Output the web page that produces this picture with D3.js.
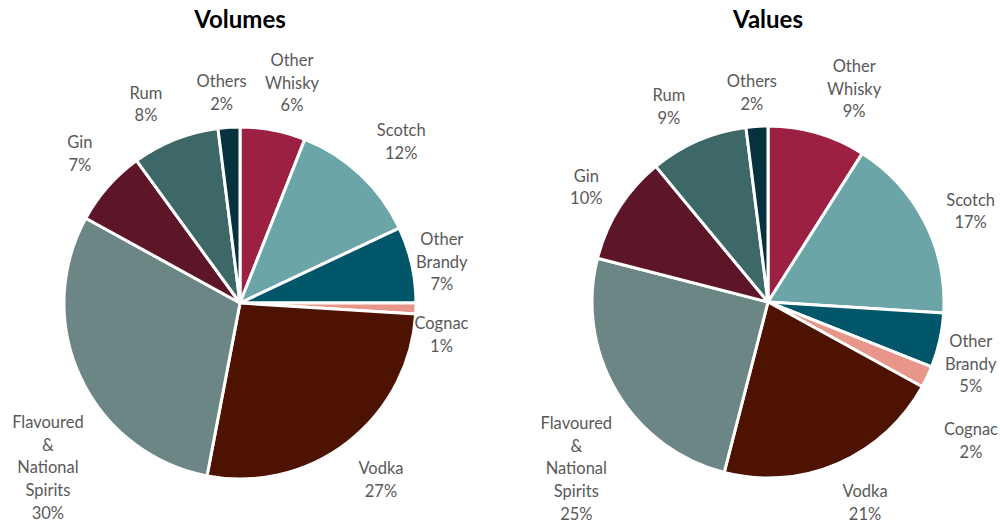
<!DOCTYPE html>
<html>
<head>
<meta charset="utf-8">
<script src="https://cdn.jsdelivr.net/npm/d3@7"></script>
<style>
  html, body { margin: 0; padding: 0; background: #ffffff; }
  svg { display: block; }
</style>
</head>
<body>
<svg id="chart" width="1000" height="524"></svg>
<script>
// Spirit categories, clockwise from 12 o'clock
const categories = ["Other Whisky", "Scotch", "Other Brandy", "Cognac", "Vodka",
  "Flavoured & National Spirits", "Gin", "Rum", "Others"];

// Label lines shown for each category
const labelLines = [["Other", "Whisky"], ["Scotch"], ["Other", "Brandy"], ["Cognac"], ["Vodka"],
  ["Flavoured", "&", "National", "Spirits"], ["Gin"], ["Rum"], ["Others"]];

// Shares (%) by volume and by value
const volumeShares = [6, 12, 7, 1, 27, 30, 7, 8, 2];
const valueShares  = [9, 17, 5, 2, 21, 25, 10, 9, 2];

const sliceColors = ["#9B2042", "#6CA5A8", "#025669", "#E8958A", "#4D1200",
  "#6C8686", "#5D1628", "#3E6768", "#06323E"];

// Label placement: angular shift (deg) from slice middle and distance from centre
const volumeLabelShift = [2.5, 1.8, 1.1, 7.2, -0.8, -15.4, 1.6, -3.7, -1.4];
const volumeLabelDist  = [226, 228, 206, 204, 226, 253, 219, 220, 211];
const valueLabelShift  = [5.8, 2.9, 4.4, 9.2, -2.4, -10.4, -0.1, -3.5, -0.8];
const valueLabelDist   = [230, 222, 212, 246, 223, 254, 215, 219, 210];

const svg = d3.select("#chart");
const radius = 176;
const lineH = 22.6;

function drawPie(title, shares, cx, cy, labelShift, labelDist) {
  const g = svg.append("g").attr("transform", `translate(${cx},${cy})`);
  const rows = categories.map((c, i) => ({ name: c, value: shares[i], i }));
  const pie = d3.pie().value(d => d.value).sort(null);
  const arc = d3.arc().innerRadius(0).outerRadius(radius);
  const arcs = pie(rows);

  g.selectAll("path.slice")
    .data(arcs)
    .join("path")
    .attr("class", "slice")
    .attr("d", arc)
    .attr("fill", d => sliceColors[d.data.i])
    .attr("stroke", "#ffffff")
    .attr("stroke-width", 3)
    .attr("stroke-linejoin", "round");

  g.selectAll("text.lbl")
    .data(arcs)
    .join("text")
    .attr("class", "lbl")
    .attr("text-anchor", "middle")
    .attr("font-family", "Lato, 'Open Sans', sans-serif")
    .attr("font-size", 16.5)
    .attr("fill", "#595959")
    .each(function (d) {
      const i = d.data.i;
      const mid = (d.startAngle + d.endAngle) / 2 + labelShift[i] * Math.PI / 180;
      const x = Math.sin(mid) * labelDist[i];
      const y = -Math.cos(mid) * labelDist[i];
      const lines = labelLines[i].concat([d3.format("d")(d.data.value) + "%"]);
      const top = y - (lines.length - 1) * lineH / 2;
      d3.select(this).selectAll("tspan")
        .data(lines)
        .join("tspan")
        .attr("x", x)
        .attr("y", (_, k) => top + k * lineH)
        .attr("dy", "0.35em")
        .text(t => t);
    });

  svg.append("text")
    .attr("x", cx)
    .attr("y", 28)
    .attr("text-anchor", "middle")
    .attr("font-family", "Lato, 'Open Sans', sans-serif")
    .attr("font-weight", "bold")
    .attr("font-size", 24)
    .attr("fill", "#000000")
    .text(title);
}

drawPie("Volumes", volumeShares, 240, 303, volumeLabelShift, volumeLabelDist);
drawPie("Values", valueShares, 768, 302, valueLabelShift, valueLabelDist);
</script>
</body>
</html>
